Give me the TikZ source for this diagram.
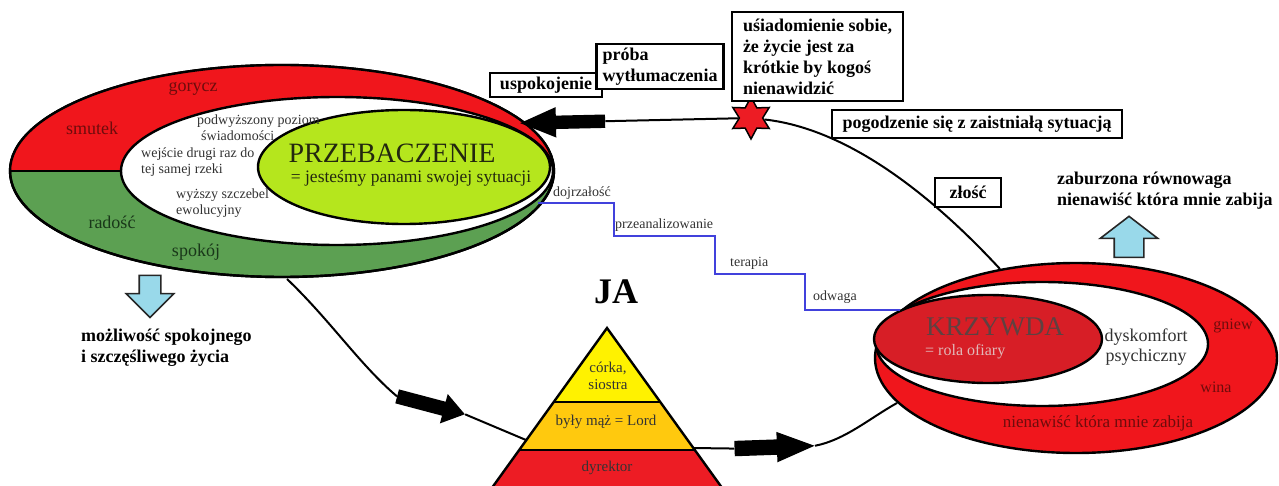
\documentclass[tikz,border=0pt]{standalone}
\usepackage{fontspec}
\setmainfont{Liberation Serif}
\usepackage{tikz}
\usetikzlibrary{shapes.geometric,shapes.arrows}

\definecolor{lred}{RGB}{240,22,28}
\definecolor{lgreen}{RGB}{92,160,82}
\definecolor{lime}{RGB}{181,230,29}
\definecolor{kred}{RGB}{215,30,38}
\definecolor{pyel}{RGB}{255,242,0}
\definecolor{pora}{RGB}{255,201,14}
\definecolor{pred}{RGB}{237,28,36}
\definecolor{ltblue}{RGB}{153,217,234}
\definecolor{stairblue}{RGB}{65,65,220}
\definecolor{darkred}{RGB}{110,12,12}
\definecolor{darkgreen}{RGB}{25,55,25}
\definecolor{txtgray}{RGB}{50,50,50}
\definecolor{titletxt}{RGB}{35,40,15}
\definecolor{krztxt}{RGB}{95,65,65}
\definecolor{rolatxt}{RGB}{225,185,185}

\tikzset{
  box/.style={draw, line width=2.4pt, fill=white, align=left, inner xsep=6pt, inner ysep=3pt, font=\fontsize{18}{21}\selectfont\bfseries},
  note/.style={align=left, inner sep=0pt, font=\fontsize{18}{21}\selectfont\bfseries},
  ringred/.style={text=darkred, font=\fontsize{18}{20}\selectfont},
  ringgreen/.style={text=darkgreen, font=\fontsize{18}{20}\selectfont},
  innertxt/.style={text=txtgray, align=left, anchor=west, inner sep=0pt, font=\fontsize{14}{16}\selectfont},
  steplabel/.style={text=txtgray, anchor=base west, inner sep=0pt, font=\fontsize{14}{16}\selectfont},
  layer/.style={text=black!80, align=center, font=\fontsize{15}{17}\selectfont},
  link/.style={line width=2pt},
  rim/.style={line width=2.4pt},
  stair/.style={draw=stairblue, line width=2.6pt},
  blockarrow/.style={single arrow, fill=black, inner xsep=0pt},
  bluearrow/.style={single arrow, draw=black!85, line width=1.6pt, fill=ltblue, inner xsep=0pt},
}

\begin{document}
\begin{tikzpicture}[x=1pt,y=-1pt]
\useasboundingbox (0,0) rectangle (1279,486);
\clip (0,0) rectangle (1279,486);

% Coordinates
\coordinate (lelB) at (287,279);   % bottom of the left ring
\coordinate (limeE) at (538,203);  % stairs start at PRZEBACZENIE
\coordinate (kryW) at (900,310);   % stairs end at KRZYWDA
\coordinate (kryT) at (1000,269);  % top of the right ring
\coordinate (kryLB) at (897,403);  % lower left of the right ring
\coordinate (apex) at (607,328);   % top of the pyramid
\coordinate (pyrL) at (526,440);   % left side of the pyramid
\coordinate (pyrR) at (693,448);   % right side of the pyramid

% Left ring: red above, green below
\filldraw[rim, fill=lgreen] (282,171) ellipse [x radius=272pt, y radius=106pt];
\begin{scope}
  \clip (0,0) rectangle (560,171);
  \fill[lred] (282,171) ellipse [x radius=272pt, y radius=106pt];
\end{scope}
\draw[rim] (282,171) ellipse [x radius=272pt, y radius=106pt];
\draw[rim] (10,171) -- (125,171); % split line
\filldraw[rim, fill=white] (337,171) ellipse [x radius=216pt, y radius=74pt];
\filldraw[rim, fill=lime] (404,167) ellipse [x radius=146pt, y radius=57pt];

% Right ring
\filldraw[rim, fill=lred] (1076,358) ellipse [x radius=201pt, y radius=95pt];
\filldraw[rim, fill=white] (1042,344) ellipse [x radius=166pt, y radius=62pt];
\filldraw[rim, fill=kred] (988,339) ellipse [x radius=114pt, y radius=44pt];

% Pyramid (JA)
\coordinate (yl) at (553.7,402);
\coordinate (yr) at (660.3,402);
\coordinate (ol) at (519.2,450);
\coordinate (oR) at (694.8,450);
\coordinate (bl) at (483.2,500);
\coordinate (br) at (730.8,500);
\fill[pyel] (apex) -- (yl) -- (yr) -- cycle;
\fill[pora] (yl) -- (ol) -- (oR) -- (yr) -- cycle;
\fill[pred] (ol) -- (bl) -- (br) -- (oR) -- cycle;
\draw[rim] (bl) -- (apex) -- (br);
\draw[rim] (yl) -- (yr);
\draw[rim] (ol) -- (oR);

% Star and block arrows on the cycle
\node[star, star points=6, star point ratio=1.8, minimum size=42pt, inner sep=0pt, fill=pred, draw, line width=1.5pt] (star) at (751,118) {};
\node[blockarrow, minimum height=85pt, inner ysep=6.5pt, single arrow head extend=8.5pt, single arrow tip angle=46, rotate=181.3] (arrtop) at (570.5,122) {};
\node[blockarrow, minimum height=70pt, inner ysep=7pt, single arrow head extend=8pt, single arrow tip angle=70, rotate=-14.8] (arrlow) at (426,404) {};
\node[blockarrow, minimum height=80pt, inner ysep=7.5pt, single arrow head extend=7.5pt, single arrow tip angle=44, rotate=2] (arrright) at (765,447.5) {};

% Cycle connectors
\draw[link] (kryT) .. controls (950,215) and (860,130) .. (star);
\draw[link] (star) -- (arrtop.tail);
\draw[link] (lelB) .. controls (330,320) and (360,365) .. (arrlow.tail);
\draw[link] (arrlow.tip) -- (pyrL);
\draw[link] (pyrR) -- (arrright.tail);
\draw[link] (arrright.tip) .. controls (845,440) and (870,418) .. (kryLB);

% Stairs
\draw[stair] (limeE) -- (614,203) |- (715,236) |- (805,274) |- (kryW);
\node[steplabel] (mature) at (553,197) {dojrzałość};
\node[steplabel] (analyse) at (615,229) {przeanalizowanie};
\node[steplabel] (therapy) at (730,267) {terapia};
\node[steplabel] (courage) at (813,301) {odwaga};

% Light blue arrows
\node[bluearrow, minimum height=42pt, inner ysep=10pt, single arrow head extend=13pt, single arrow tip angle=90, rotate=-90] (down) at (150,291) {};
\node[bluearrow, minimum height=41pt, inner ysep=14pt, single arrow head extend=14pt, single arrow tip angle=105, rotate=90] (up) at (1129,242.5) {};

% Boxes
\node[box, minimum width=112pt, minimum height=24pt] (calm) at (546,85) {uspokojenie};
\node[box, minimum width=122pt, minimum height=45pt] (explain) at (660,66.5) {próba\\wytłumaczenia};
\node[box, minimum width=171pt, minimum height=89pt] (aware) at (817.5,56.5) {uśiadomienie sobie,\\że życie jest za\\krótkie by kogoś\\nienawidzić};
\node[box, minimum width=290pt, minimum height=28pt] (accept) at (977,124) {pogodzenie się z zaistniałą sytuacją};
\node[box, minimum width=66pt, minimum height=29pt, align=center] (anger) at (968,192.5) {złość};

% Left ring labels
\node[ringred] (bitter) at (193,89) {gorycz};
\node[ringred] (sad) at (92,128) {smutek};
\node[ringgreen] (joy) at (112,222) {radość};
\node[ringgreen] (peace) at (196,252) {spokój};
\node[innertxt] (level) at (197,128) {podwyższony poziom\\\hspace*{4pt}świadomości};
\node[innertxt] (river) at (141,162) {wejście drugi raz do\\tej samej rzeki};
\node[innertxt] (evol) at (176,203) {wyższy szczebel\\ewolucyjny};
\node[text=titletxt, font=\fontsize{28}{30}\selectfont] (forgive) at (392,153) {PRZEBACZENIE};
\node[text=titletxt, font=\fontsize{17.5}{20}\selectfont] (master) at (411,178) {= jesteśmy panami swojej sytuacji};

% Right ring labels
\node[text=krztxt, font=\fontsize{27}{30}\selectfont] (harm) at (995,327) {KRZYWDA};
\node[text=rolatxt, anchor=west, inner sep=0pt, font=\fontsize{16}{18}\selectfont] (victim) at (925,352) {= rola ofiary};
\node[text=txtgray, align=center, font=\fontsize{18}{20}\selectfont] (discomf) at (1146,347) {dyskomfort\\psychiczny};
\node[ringred, font=\fontsize{16}{18}\selectfont] (rage) at (1233,326) {gniew};
\node[ringred, font=\fontsize{16}{18}\selectfont] (guilt) at (1216,387) {wina};
\node[ringred, font=\fontsize{17}{19}\selectfont] (hate) at (1098,423) {nienawiść która mnie zabija};

% Bold notes
\node[note, anchor=west] (upset) at (1057,191) {zaburzona równowaga\\nienawiść która mnie zabija};
\node[note, anchor=west] (calmlife) at (81,347.5) {możliwość spokojnego\\i szczęśliwego życia};

% Pyramid labels
\node[font=\fontsize{36}{40}\selectfont\bfseries] (me) at (616,292) {JA};
\node[layer] (daughter) at (608,376) {córka,\\siostra};
\node[layer] (exhusband) at (606,422) {były mąż = Lord};
\node[layer] (director) at (607,468) {dyrektor};

\end{tikzpicture}
\end{document}
